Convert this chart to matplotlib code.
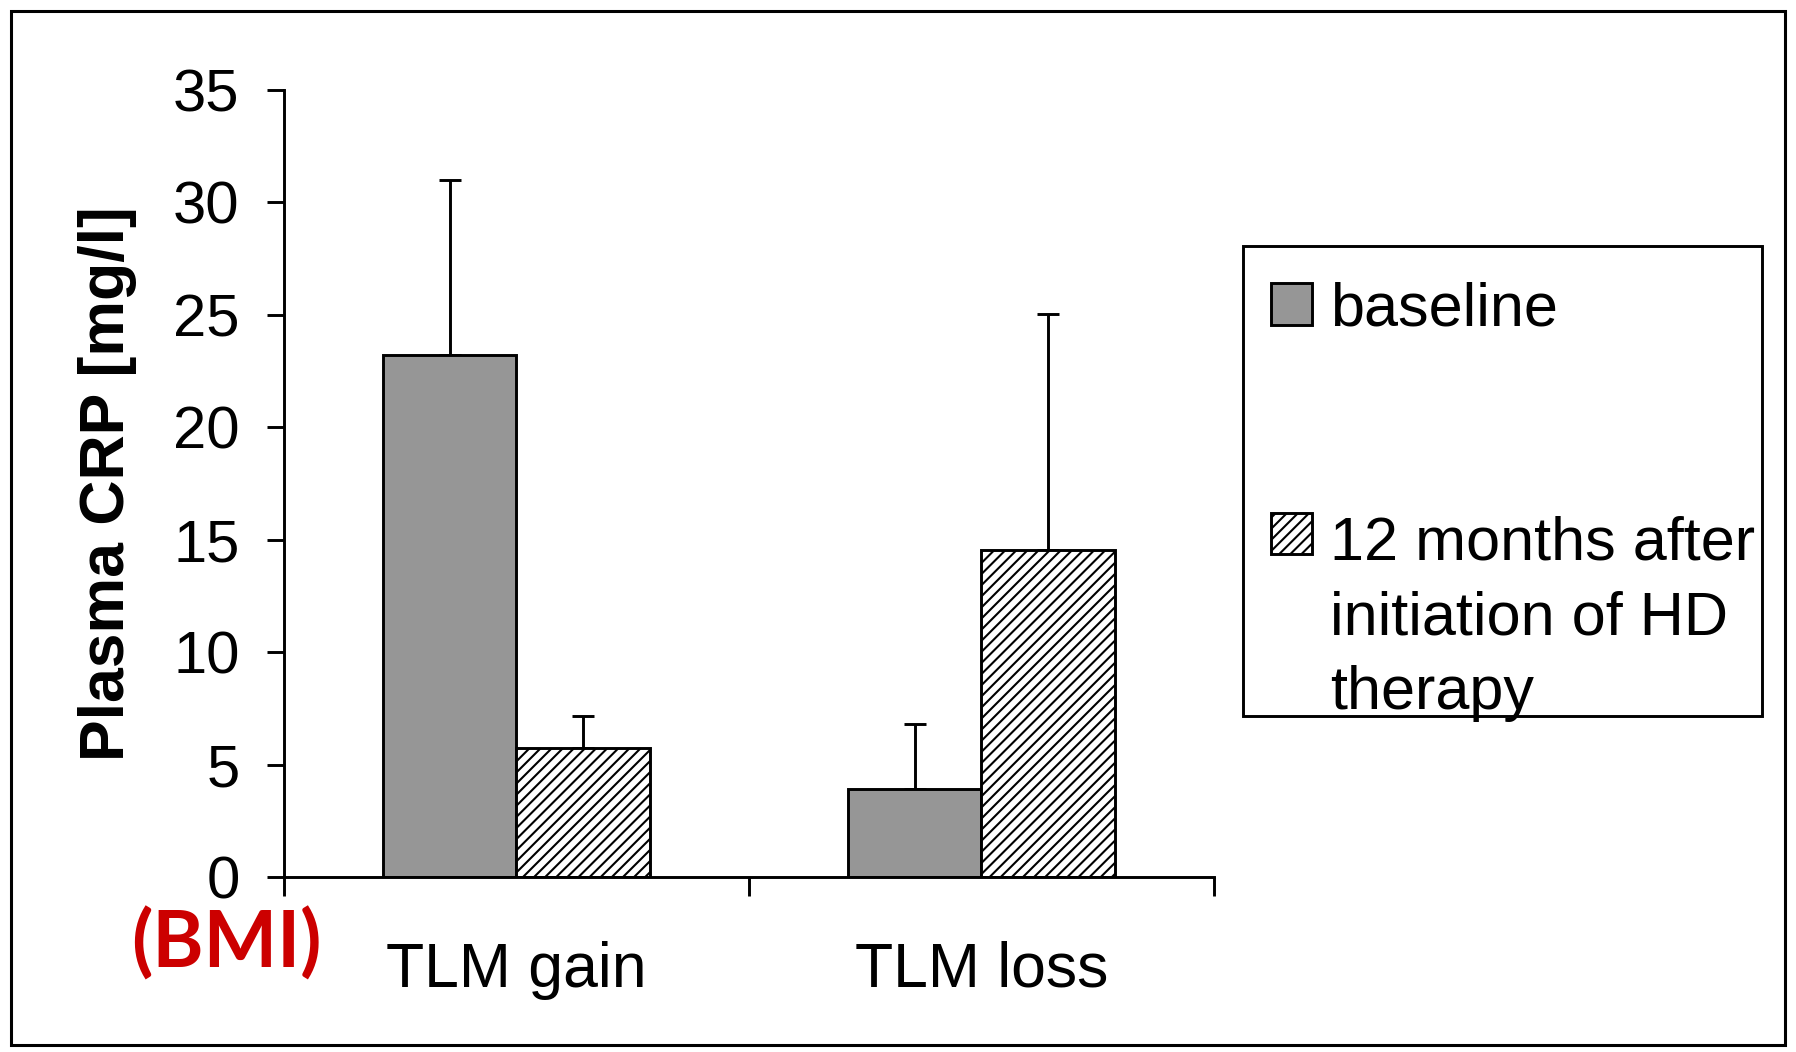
import numpy as np
import matplotlib.pyplot as plt
from matplotlib.patches import Rectangle
from matplotlib.legend_handler import HandlerPatch

plt.rcParams['font.family'] = ['Liberation Sans', 'DejaVu Sans']
plt.rcParams['hatch.linewidth'] = 1.5

groups = ['TLM gain', 'TLM loss']
baseline = [23.2, 3.9]
baseline_err = [7.8, 2.9]
after12 = [5.75, 14.55]
after12_err = [1.4, 10.5]
series_labels = ['baseline', '12 months after\ninitiation of HD\ntherapy']
yticks = [0, 5, 10, 15, 20, 25, 30, 35]

lw = 2.1

fig = plt.figure(figsize=(17.96, 10.52), dpi=100)
ax = fig.add_axes([0.1581, 0.1663, 0.5178, 0.7481])

x = np.arange(len(groups)) + 0.5
w = 0.287
zeros = [0, 0]
b1 = ax.bar(x - w / 2, baseline, w, color='#969696', edgecolor='black', linewidth=lw,
            label=series_labels[0], zorder=2)
b2 = ax.bar(x + w / 2, after12, w, color='white', edgecolor='black', linewidth=lw,
            hatch='///', label=series_labels[1], zorder=2)
ax.errorbar(x - w / 2, baseline, yerr=[zeros, baseline_err], fmt='none',
            ecolor='black', elinewidth=lw, capsize=8, capthick=lw, zorder=1)
ax.errorbar(x + w / 2, after12, yerr=[zeros, after12_err], fmt='none',
            ecolor='black', elinewidth=lw, capsize=8, capthick=lw, zorder=1)

ax.set_xlim(0, 2)
ax.set_ylim(0, 35)
ax.set_yticks(yticks)
ax.set_xticks([0, 1, 2])
ax.set_xticklabels([])
ax.set_xticks(x, minor=True)
ax.set_xticklabels(groups, minor=True)
ax.tick_params(axis='x', which='major', direction='out', length=14, width=lw)
ax.tick_params(axis='x', which='minor', length=0, pad=46, labelsize=45)
ax.tick_params(axis='y', direction='out', length=12, width=lw, pad=20, labelsize=43)

for s in ['top', 'right']:
    ax.spines[s].set_visible(False)
for s in ['left', 'bottom']:
    ax.spines[s].set_linewidth(lw)

ax.set_ylabel('Plasma CRP [mg/l]', fontsize=45, fontweight='bold', labelpad=26)

fig.text(226 / 1796, 1 - 944 / 1052, '(BMI)', color='#cc0000', fontsize=56,
         fontweight='bold', family=['Lato', 'DejaVu Sans'], ha='center', va='center')


# legend square for the 3-line entry sits at the first line
def top_square(legend, orig_handle, xdescent, ydescent, width, height, fontsize):
    return Rectangle((-xdescent, -ydescent + 1.41 * fontsize), width, height)


h1 = b1.patches[0]
h2 = b2.patches[0]
leg = fig.legend(handles=[h1, h2], labels=series_labels, loc='upper left',
                 bbox_to_anchor=(1236 / 1796, 1 - 246 / 1052),
                 fontsize=44, frameon=False, borderaxespad=0,
                 handlelength=0.66, handleheight=0.66, handletextpad=0.3,
                 labelspacing=2.9, borderpad=0.58,
                 handler_map={h2: HandlerPatch(patch_func=top_square)})
for t in leg.get_texts():
    t.set_linespacing(1.4)

# legend frame
fig.patches.append(Rectangle((1243 / 1796, 1 - 716 / 1052), 519 / 1796, 470 / 1052,
                             transform=fig.transFigure, fill=False,
                             edgecolor='black', linewidth=lw))
# outer border
fig.patches.append(Rectangle((11 / 1796, 7 / 1052), 1774 / 1796, 1034 / 1052,
                             transform=fig.transFigure, fill=False,
                             edgecolor='black', linewidth=2.2))

fig.savefig('out.png', dpi=100)
